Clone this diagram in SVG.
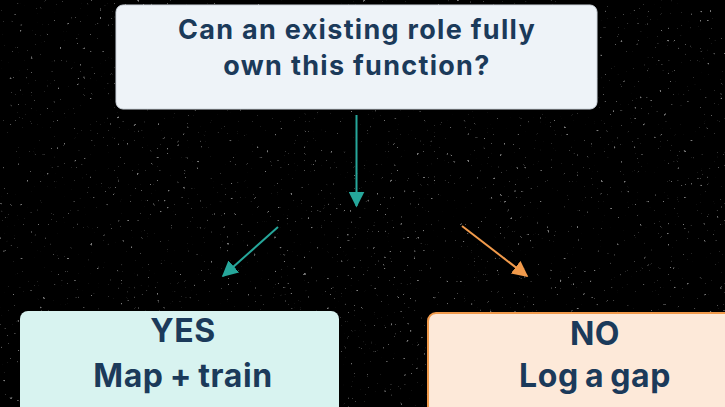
<svg xmlns="http://www.w3.org/2000/svg" width="725" height="407" viewBox="0 0 725 407">
  <style>
    .label { font-family: Inter, "Liberation Sans", sans-serif; font-weight: 700; fill: #1b3a5a; text-anchor: middle; }
    .q { font-size: 27px; letter-spacing: 1.3px; }
    .ans { font-size: 32px; letter-spacing: 0.6px; word-spacing: -2px; }
    .teal { stroke: #26a79b; stroke-width: 2; fill: none; }
    .orange { stroke: #f19a4b; stroke-width: 2; fill: none; }
  </style>
  <defs>
    <marker id="arrow-teal" viewBox="0 0 10 10" refX="9" refY="5" markerWidth="8" markerHeight="8" markerUnits="strokeWidth" orient="auto">
      <path d="M0,0 L10,5 L0,10 z" fill="#26a79b"/>
    </marker>
    <marker id="arrow-orange" viewBox="0 0 10 10" refX="9" refY="5" markerWidth="8" markerHeight="8" markerUnits="strokeWidth" orient="auto">
      <path d="M0,0 L10,5 L0,10 z" fill="#f19a4b"/>
    </marker>
    <!-- sparse grey speckle over the dark backdrop -->
    <filter id="speckle" x="0" y="0" width="100%" height="100%">
      <feTurbulence type="fractalNoise" baseFrequency="0.3" numOctaves="2" seed="7" result="noise"/>
      <feColorMatrix in="noise" type="matrix" values="0 0 0 0 0.2  0 0 0 0 0.2  0 0 0 0 0.2  0 0 0 10 -7.5"/>
    </filter>
  </defs>

  <rect width="725" height="407" fill="#000000"/>
  <rect width="725" height="407" filter="url(#speckle)"/>

  <g id="question">
    <rect x="116" y="5" width="481" height="104" rx="7" fill="#eef3f8" stroke="#cfd6de" stroke-width="1"/>
    <text class="label q" x="357" y="39">Can an existing role fully</text>
    <text class="label q" x="357" y="75">own this function?</text>
  </g>

  <g id="yes">
    <rect x="20" y="311" width="319" height="110" rx="8" fill="#d8f3f0"/>
    <text class="label ans" x="183" y="342">YES</text>
    <text class="label ans" x="183" y="387">Map + train</text>
  </g>

  <g id="no">
    <rect x="428" y="313" width="310" height="110" rx="8" fill="#fde9d9" stroke="#f19a4b" stroke-width="2"/>
    <text class="label ans" x="595" y="345">NO</text>
    <text class="label ans" x="595" y="387">Log a gap</text>
  </g>

  <g id="connectors">
    <line class="teal" x1="356.5" y1="115" x2="356.5" y2="206" marker-end="url(#arrow-teal)"/>
    <line class="teal" x1="278" y1="227" x2="223" y2="276" marker-end="url(#arrow-teal)"/>
    <line class="orange" x1="462" y1="226" x2="527" y2="276" marker-end="url(#arrow-orange)"/>
  </g>
</svg>
